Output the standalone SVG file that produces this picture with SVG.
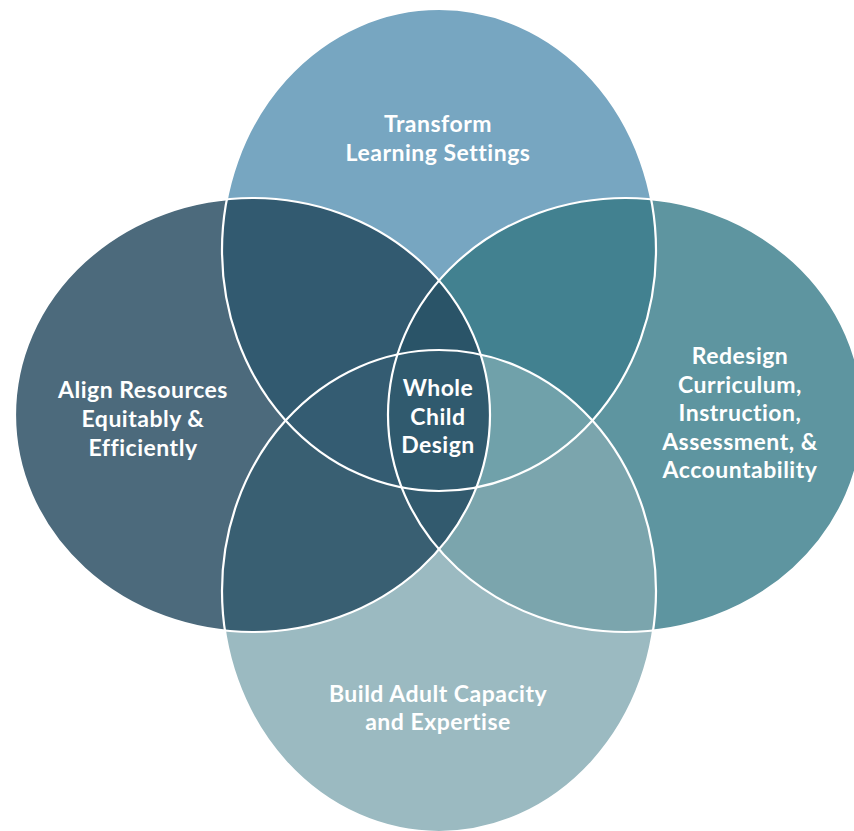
<svg xmlns="http://www.w3.org/2000/svg" width="854" height="831" viewBox="0 0 854 831">
<style>
  .lbl { font-family: Lato, "Open Sans", "Liberation Sans", sans-serif; font-weight: bold; font-size: 23px; letter-spacing: 0.5px; fill: #ffffff; text-anchor: middle; }
  .edge { fill: none; stroke: #ffffff; stroke-width: 2.2; }
</style>
<defs>
  <ellipse id="eTop" cx="439" cy="250" rx="217" ry="241"/>
  <ellipse id="eBot" cx="439" cy="591" rx="217" ry="241"/>
  <ellipse id="eLeft" cx="252.5" cy="415" rx="237.5" ry="217"/>
  <ellipse id="eRight" cx="625.5" cy="415" rx="237.5" ry="217"/>
  <clipPath id="cTop"><use href="#eTop"/></clipPath>
  <clipPath id="cBot"><use href="#eBot"/></clipPath>
  <clipPath id="cLeft"><use href="#eLeft"/></clipPath>
  <clipPath id="cRight"><use href="#eRight"/></clipPath>
</defs>
<rect width="854" height="831" fill="#ffffff"/>
<g id="fills">
  <use href="#eTop" fill="#77A6C1"/>
  <use href="#eBot" fill="#9BBAC1"/>
  <use href="#eLeft" fill="#4C6A7C"/>
  <use href="#eRight" fill="#5E95A0"/>
  <g clip-path="url(#cTop)">
    <use href="#eLeft" fill="#325A70"/>
    <use href="#eRight" fill="#428190"/>
  </g>
  <g clip-path="url(#cBot)">
    <use href="#eLeft" fill="#395F72"/>
    <use href="#eRight" fill="#7BA5AD"/>
    <g clip-path="url(#cTop)">
      <use href="#eLeft" fill="#345C72"/>
      <use href="#eRight" fill="#70A1AA"/>
    </g>
  </g>
  <g clip-path="url(#cLeft)">
    <g clip-path="url(#cRight)">
      <use href="#eTop" fill="#2A5468"/>
      <use href="#eBot" fill="#325A6E"/>
      <g clip-path="url(#cTop)">
        <use href="#eBot" fill="#305A6E"/>
      </g>
    </g>
  </g>
</g>
<g id="outlines">
  <use href="#eTop" class="edge"/>
  <use href="#eBot" class="edge"/>
  <use href="#eLeft" class="edge"/>
  <use href="#eRight" class="edge"/>
</g>
<g id="node-top">
  <text class="lbl" x="438" y="132">Transform</text>
  <text class="lbl" x="438" y="161">Learning Settings</text>
</g>
<g id="node-left">
  <text class="lbl" x="143" y="398">Align Resources</text>
  <text class="lbl" x="143" y="427">Equitably &amp;</text>
  <text class="lbl" x="143" y="456">Efficiently</text>
</g>
<g id="node-center">
  <text class="lbl" x="438" y="396">Whole</text>
  <text class="lbl" x="438" y="425">Child</text>
  <text class="lbl" x="438" y="453">Design</text>
</g>
<g id="node-right">
  <text class="lbl" x="740" y="364">Redesign</text>
  <text class="lbl" x="740" y="393">Curriculum,</text>
  <text class="lbl" x="740" y="421">Instruction,</text>
  <text class="lbl" x="740" y="450">Assessment, &amp;</text>
  <text class="lbl" x="740" y="478">Accountability</text>
</g>
<g id="node-bottom">
  <text class="lbl" x="438" y="702">Build Adult Capacity</text>
  <text class="lbl" x="438" y="730">and Expertise</text>
</g>
</svg>
